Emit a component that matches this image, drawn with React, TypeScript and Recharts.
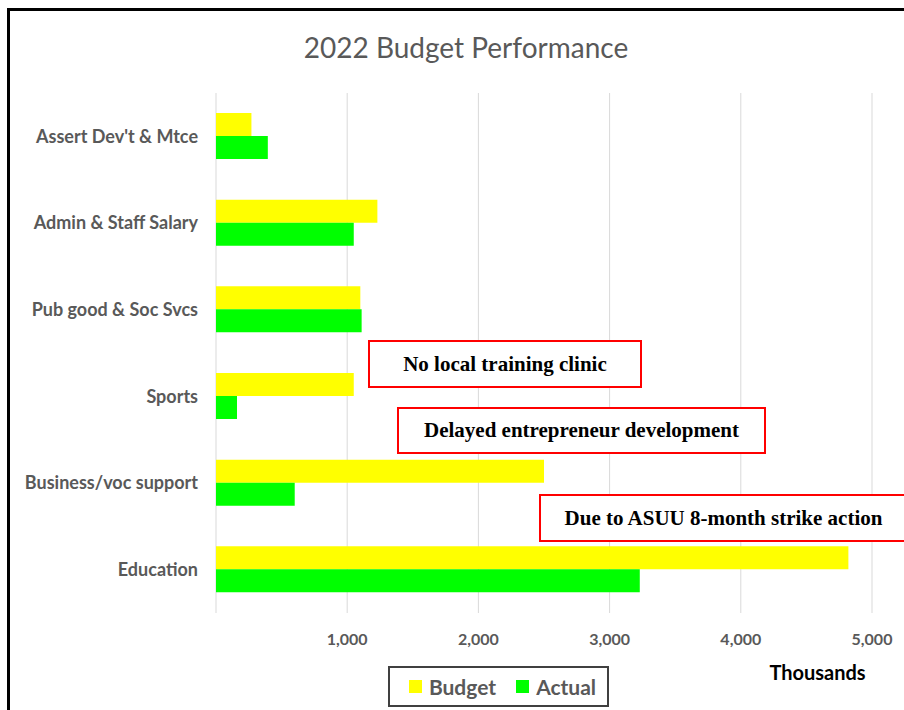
import React from 'react';
import { BarChart, Bar, XAxis, YAxis, CartesianGrid } from 'recharts';

const categories = [
  "Assert Dev't & Mtce",
  'Admin & Staff Salary',
  'Pub good & Soc Svcs',
  'Sports',
  'Business/voc support',
  'Education',
];
const budget = [270, 1230, 1100, 1050, 2500, 4820];
const actual = [395, 1050, 1110, 160, 600, 3230];
const xTicks = [0, 1000, 2000, 3000, 4000, 5000];
const seriesNames = ['Budget', 'Actual'];
const seriesColors = ['#FFFF00', '#00FF00'];
const notes = [
  'No local training clinic',
  'Delayed entrepreneur development',
  'Due to ASUU 8-month strike action',
];
const noteBoxes = [
  { left: 368, top: 340, width: 274, height: 48 },
  { left: 397, top: 407, width: 369, height: 47 },
  { left: 539, top: 494, width: 369, height: 48 },
];

const data = categories.map((c, i) => ({ name: c, Budget: budget[i], Actual: actual[i] }));

const FONT = 'Lato, "Open Sans", sans-serif';

export default function App() {
  return (
    <div
      style={{
        position: 'absolute',
        left: 0,
        top: 0,
        width: 904,
        height: 710,
        overflow: 'hidden',
        background: '#fff',
      }}
    >
      <div
        style={{
          position: 'absolute',
          left: 7,
          top: 8,
          width: 1000,
          height: 1000,
          border: '3px solid #000',
        }}
      />
      <div
        style={{
          position: 'absolute',
          left: 0,
          width: 932,
          top: 30,
          textAlign: 'center',
          fontFamily: FONT,
          fontSize: 28,
          color: '#595959',
        }}
      >
        2022 Budget Performance
      </div>
      <div style={{ position: 'absolute', left: 0, top: 0 }}>
        <BarChart
          width={904}
          height={710}
          data={data}
          layout="vertical"
          margin={{ top: 93, right: 32, bottom: 67, left: 0 }}
          barGap={0}
        >
          <CartesianGrid horizontal={false} vertical stroke="#d9d9d9" />
          <XAxis
            type="number"
            domain={[0, 5000]}
            ticks={xTicks}
            axisLine={false}
            tickLine={false}
            tickSize={0}
            tickMargin={21}
            height={30}
            tickFormatter={(v: number) => (v === 0 ? '' : v.toLocaleString('en-US'))}
            tick={{ fill: '#595959', fontFamily: FONT, fontWeight: 700, fontSize: 16 }}
          />
          <YAxis
            type="category"
            dataKey="name"
            width={216}
            axisLine={false}
            tickLine={false}
            tickSize={0}
            tickMargin={18}
            interval={0}
            tick={{ fill: '#595959', fontFamily: FONT, fontWeight: 700, fontSize: 18 }}
          />
          <Bar dataKey="Budget" name={seriesNames[0]} fill={seriesColors[0]} barSize={23} isAnimationActive={false} />
          <Bar dataKey="Actual" name={seriesNames[1]} fill={seriesColors[1]} barSize={23} isAnimationActive={false} />
        </BarChart>
      </div>
      <div
        style={{
          position: 'absolute',
          left: 388,
          top: 666,
          width: 221,
          height: 41,
          boxSizing: 'border-box',
          border: '2px solid #404040',
          background: '#fff',
          display: 'flex',
          alignItems: 'center',
          justifyContent: 'center',
          paddingLeft: 8,
          fontFamily: FONT,
          fontWeight: 700,
          fontSize: 21,
          color: '#595959',
        }}
      >
        {seriesNames.map((n, i) => (
          <span key={i} style={{ display: 'flex', alignItems: 'center', marginLeft: i ? 20 : 0 }}>
            <span
              style={{ width: 13, height: 13, background: seriesColors[i], marginRight: 7, display: 'inline-block' }}
            />
            <span>{n}</span>
          </span>
        ))}
      </div>
      <div
        style={{
          position: 'absolute',
          left: 760,
          top: 660,
          width: 115,
          textAlign: 'center',
          fontFamily: FONT,
          fontWeight: 700,
          fontSize: 20,
          color: '#000',
          whiteSpace: 'nowrap',
        }}
      >
        Thousands
      </div>
      {notes.map((n, i) => (
        <div
          key={i}
          style={{
            position: 'absolute',
            left: noteBoxes[i].left,
            top: noteBoxes[i].top,
            width: noteBoxes[i].width,
            height: noteBoxes[i].height,
            boxSizing: 'border-box',
            border: '2px solid #ff0000',
            background: '#fff',
            display: 'flex',
            alignItems: 'center',
            justifyContent: 'center',
            fontFamily: '"Liberation Serif", "Times New Roman", serif',
            fontWeight: 700,
            fontSize: 21,
            color: '#000',
            whiteSpace: 'nowrap',
          }}
        >
          {n}
        </div>
      ))}
    </div>
  );
}
